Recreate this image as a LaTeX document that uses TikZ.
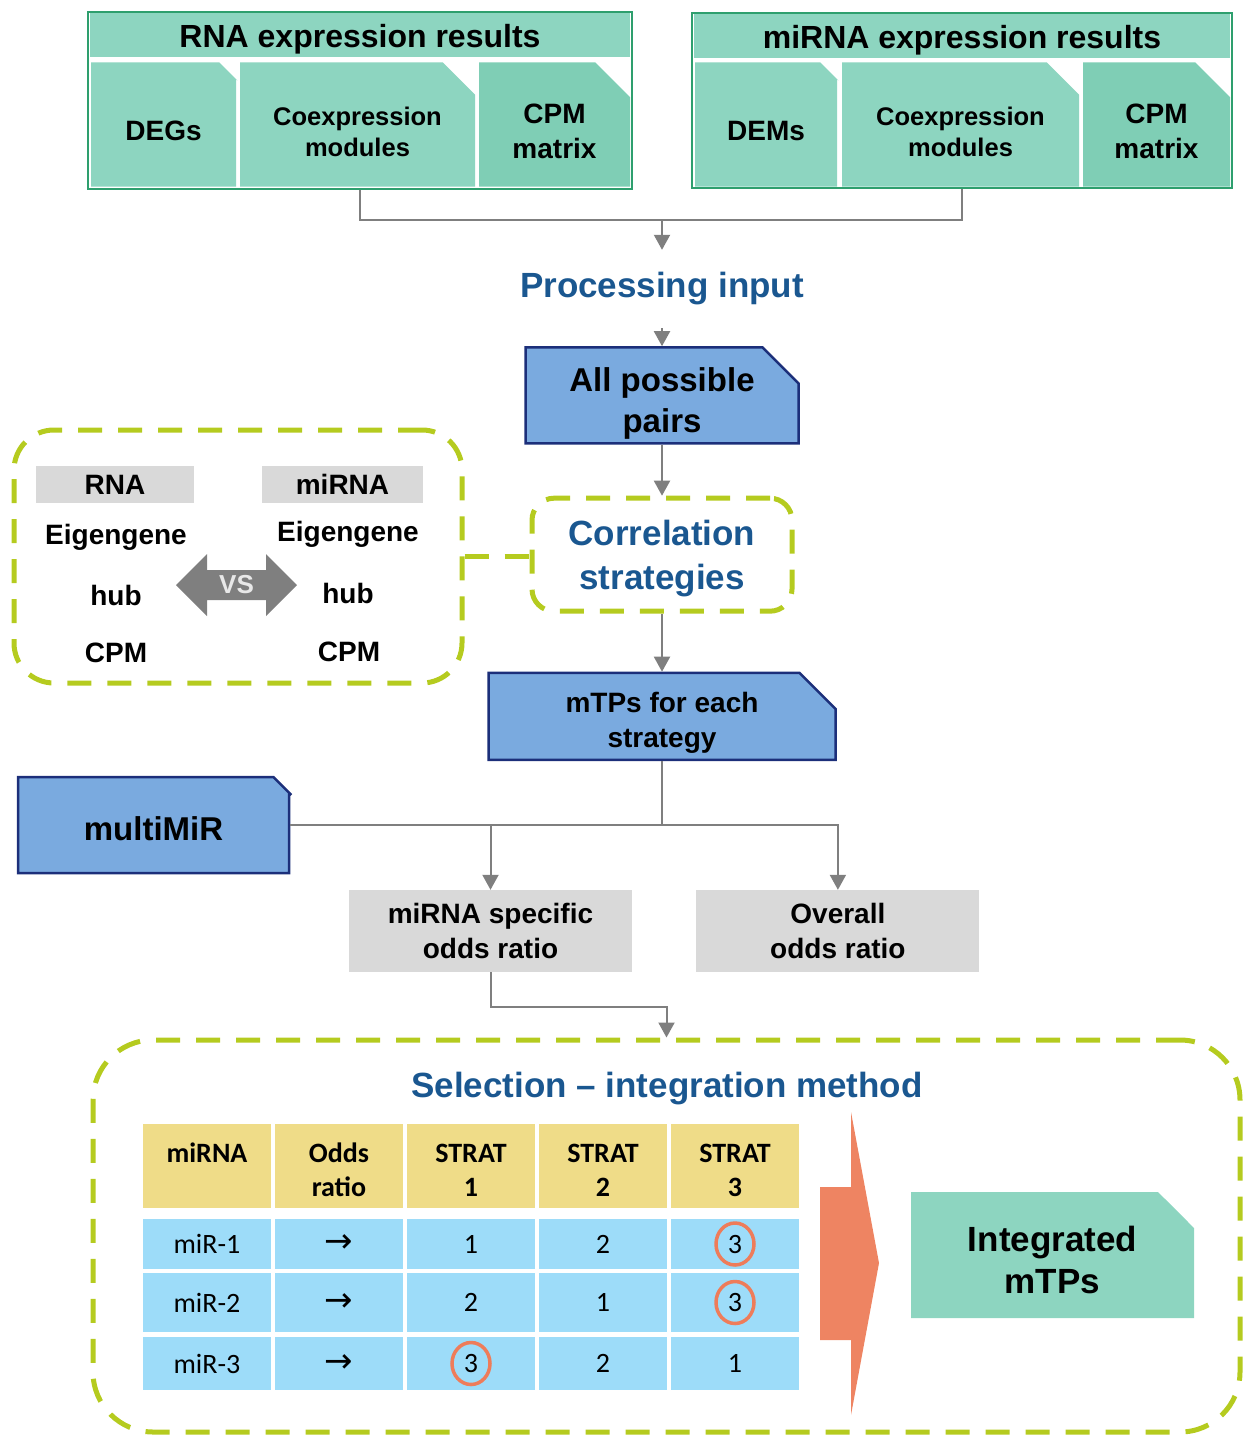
\documentclass[tikz,border=0pt]{standalone}
\usepackage{fontspec}
\setmainfont{Liberation Sans}
\newfontfamily\calfont{Carlito}
\newfontfamily\arrfont{DejaVu Sans}
\usetikzlibrary{positioning,arrows.meta,shapes.misc,shapes.geometric}

\definecolor{tealfill}{HTML}{8DD5C0}
\definecolor{tealdark}{HTML}{7FCEB5}
\definecolor{grnline}{HTML}{2E9F6E}
\definecolor{bluefill}{HTML}{7AAADF}
\definecolor{navy}{HTML}{1C2F7A}
\definecolor{boxgray}{HTML}{D9D9D9}
\definecolor{lime}{HTML}{B5CB1F}
\definecolor{titleblue}{HTML}{1A5790}
\definecolor{arrgray}{HTML}{7F7F7F}
\definecolor{headyellow}{HTML}{EFDC88}
\definecolor{rowblue}{HTML}{9DDCF9}
\definecolor{bigorange}{HTML}{EE8462}
\definecolor{pickorange}{HTML}{EE7C5A}
\definecolor{vstext}{HTML}{E8E8E8}

\newcommand{\sizeA}{\fontsize{35}{42}\selectfont\bfseries}
\newcommand{\sizeB}{\fontsize{32}{38}\selectfont\bfseries}
\newcommand{\sizeC}{\fontsize{28}{35}\selectfont\bfseries}
\newcommand{\sizeD}{\fontsize{25.5}{31}\selectfont\bfseries}
\newcommand{\sizeT}{\fontsize{28}{34}\selectfont\calfont}
\newcommand{\orarrow}{{\arrfont\fontsize{34}{34}\selectfont →}}
\newcommand{\tdrop}[1]{\rule{0pt}{#1}}

\begin{document}
\begin{tikzpicture}[x=1pt, y=-1pt,
    textdrop/.style={execute at begin node={\rule{0pt}{#1}}},
    grp/.style={draw=grnline, line width=2.5pt, fill=white, inner sep=0pt},
    band/.style={fill=tealfill, inner sep=0pt, font=\sizeB, textdrop=31pt},
    sub/.style={chamfered rectangle, chamfered rectangle corners=north east,
        chamfered rectangle sep=18pt, fill=tealfill, inner sep=-18pt, align=center,
        minimum height=124pt},
    bluebox/.style={chamfered rectangle, chamfered rectangle corners=north east,
        chamfered rectangle sep=18pt, fill=bluefill, draw=navy, line width=2.5pt,
        inner sep=-18pt, align=center},
    dashbox/.style={draw=lime, line width=5pt, dash pattern=on 24pt off 16pt,
        inner sep=0pt, align=center},
    graybox/.style={fill=boxgray, inner sep=0pt, align=center},
    conn/.style={draw=arrgray, line width=2pt},
    arr/.style={conn, -{Triangle[width=16pt,length=15pt]}},
    headcell/.style={fill=headyellow, inner sep=0pt, minimum width=128pt,
        minimum height=84pt, align=center, font=\sizeT\bfseries},
    rowcell/.style={fill=rowblue, inner sep=0pt, minimum width=128pt, font=\sizeT},
    pick/.style={ellipse, draw=pickorange, line width=3.5pt, minimum width=38pt,
        minimum height=42pt, inner sep=0pt}]

\useasboundingbox (0,0) rectangle (1246,1437);

% RNA results
\node[grp, minimum width=544pt, minimum height=177pt] (rna) at (360,100.5) {};
\node[band, minimum width=540pt, minimum height=44pt] (rnatitle) at (360,35) {RNA expression results};
\node[sub, minimum width=145pt, textdrop=33pt, font=\sizeC] (degs) at (163.5,124.5) {DEGs};
\node[sub, minimum width=235pt, font=\sizeD] (rnacoex) at (357.5,124.5) {\tdrop{33pt}Coexpression\\modules};
\node[sub, fill=tealdark, minimum width=151pt, font=\sizeC] (rnacpm) at (554.5,124.5) {\tdrop{34pt}CPM\\matrix};

% miRNA results
\node[grp, minimum width=540pt, minimum height=175pt] (mirna) at (962,100.5) {};
\node[band, minimum width=536pt, minimum height=44pt] (mirnatitle) at (962,36) {miRNA expression results};
\node[sub, minimum width=142pt, textdrop=33pt, font=\sizeC] (dems) at (766,124.5) {DEMs};
\node[sub, minimum width=237pt, font=\sizeD] (mircoex) at (960.5,124.5) {\tdrop{33pt}Coexpression\\modules};
\node[sub, fill=tealdark, minimum width=147pt, font=\sizeC] (mircpm) at (1156.5,124.5) {\tdrop{34pt}CPM\\matrix};

\coordinate (join) at (662,220);
\draw[conn] (rna.south) |- (join) -| (mirna.south);

% main chain
\node[font=\sizeA, text=titleblue, inner sep=0pt, minimum height=78pt] (proc) at (662,289) {Processing input};
\draw[arr] (join) -- (proc.north);

\node[bluebox, minimum width=273pt, minimum height=96pt, font=\fontsize{33}{41}\selectfont\bfseries] (pairs) [below=18pt of proc] {\tdrop{40pt}All possible\\pairs};
\draw[arr] (proc.south) -- (pairs.north);

\node[dashbox, rounded corners=22pt, minimum width=260pt, minimum height=113pt, text=titleblue, font=\fontsize{35}{44}\selectfont\bfseries] (corr) [below=51pt of pairs] {\tdrop{33.5pt}Correlation\\strategies};
\draw[arr] (pairs.south) -- (corr.north);

\node[bluebox, minimum width=347pt, minimum height=87pt, font=\sizeC] (mtps) [below=58pt of corr] {\tdrop{33.5pt}mTPs for each\\strategy};
\draw[arr] (corr.south) -- (mtps.north);

% strategies compared
\node[dashbox, rounded corners=40pt, minimum width=448pt, minimum height=253pt] (cmpbox) at (238,556.5) {};
\draw[draw=lime, line width=5pt, dash pattern=on 24pt off 16pt] (cmpbox.east) -- (cmpbox.east -| corr.west);

\node[graybox, minimum width=158pt, minimum height=37pt, font=\sizeC] (rnalbl) at (115,484.5) {RNA};
\node[graybox, minimum width=161pt, minimum height=37pt, font=\sizeC] (mirlbl) at (342.5,484.5) {miRNA};
\node[font=\sizeC] (rnaeig) at (116,537) {Eigengene};
\node[font=\sizeC] (rnahub) at (116,595) {hub};
\node[font=\sizeC] (rnacpmv) at (116,653) {CPM};
\node[font=\sizeC] (mireig) at (348,534) {Eigengene};
\node[font=\sizeC] (mirhub) at (348,593) {hub};
\node[font=\sizeC] (mircpmv) at (349,652) {CPM};

\fill[arrgray] (176,585) -- (207,554) -- (207,570) -- (266,570) -- (266,554) -- (297,585)
    -- (266,616) -- (266,600) -- (207,600) -- (207,616) -- cycle;
\node[text=vstext, font=\fontsize{26}{30}\selectfont\bfseries, inner sep=0pt] (vs) at (236.5,585) {VS};

% odds ratios
\node[bluebox, minimum width=271pt, minimum height=96pt, textdrop=31pt, font=\fontsize{33}{40}\selectfont\bfseries] (multimir) at (153.5,825) {multiMiR};
\node[graybox, minimum width=283pt, minimum height=82pt, font=\sizeC] (specific) at (490.5,931) {miRNA specific\\odds ratio};
\node[graybox, minimum width=283pt, minimum height=82pt, font=\sizeC] (overall) [right=64pt of specific] {Overall\\odds ratio};

\coordinate (split) at (mtps.south |- multimir.east);
\draw[conn] (mtps.south) -- (split);
\draw[conn] (multimir.east) -- (split);
\draw[arr] (split) -| (specific.north);
\draw[arr] (split) -| (overall.north);

% selection
\node[dashbox, rounded corners=60pt, minimum width=1147pt, minimum height=392pt] (sel) at (666.5,1236) {};
\coordinate (bend) at (666.5,1007);
\draw[arr] (specific.south) |- (bend) -- (sel.north);
\node[font=\sizeA, text=titleblue] (seltitle) at (667,1089) {Selection -- integration method};

\foreach \txt [count=\c] in {{\tdrop{27pt}miRNA\\\phantom{ratio}},{\tdrop{27pt}Odds\\ratio},
        {\tdrop{27pt}STRAT\\1},{\tdrop{27pt}STRAT\\2},{\tdrop{27pt}STRAT\\3}}
    \node[headcell] (head-\c) at (75+132*\c,1166) {\txt};

\foreach \r/\y/\h/\vals in {1/1244/50/{miR-1,\orarrow,1,2,3},
                            2/1302.5/59/{miR-2,\orarrow,2,1,3},
                            3/1363.5/53/{miR-3,\orarrow,3,2,1}}
    \foreach \v [count=\c] in \vals
        \node[rowcell, minimum height=\h pt] (cell-\r-\c) at (75+132*\c,\y) {\v};

\foreach \r/\c in {1/5,2/5,3/3}
    \node[pick] (pick-\r-\c) at (cell-\r-\c) {};

\fill[bigorange] (820,1187) -- (851,1187) -- (851,1112) -- (879,1263) -- (851,1415)
    -- (851,1340) -- (820,1340) -- cycle;

\node[sub, minimum width=283pt, minimum height=126pt, font=\sizeA] (integ) at (1052.5,1255) {\tdrop{35.5pt}Integrated\\mTPs};

\end{tikzpicture}
\end{document}
